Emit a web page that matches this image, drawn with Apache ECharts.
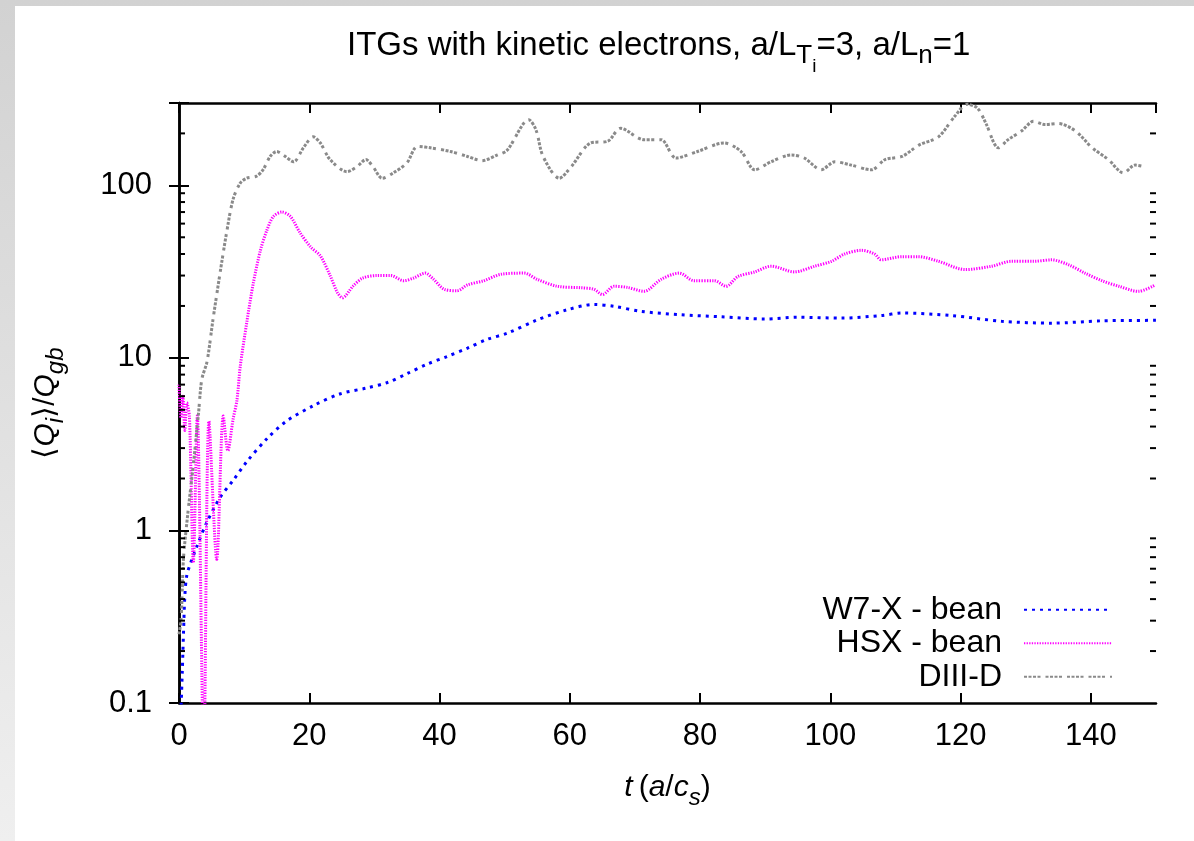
<!DOCTYPE html>
<html>
<head>
<meta charset="utf-8">
<script src="https://cdn.jsdelivr.net/npm/echarts@6/dist/echarts.min.js"></script>
<style>
  html, body { margin: 0; padding: 0; }
  body { width: 1194px; height: 841px; background: linear-gradient(to bottom, #d2d2d2, #efefef); position: relative; overflow: hidden; }
  #paper { position: absolute; left: 15px; top: 6px; width: 1179px; height: 835px; background: #fff; }
  #chart { position: absolute; left: 0; top: 0; width: 1194px; height: 841px; }
</style>
</head>
<body>
<div id="paper"></div>
<div id="chart"></div>
<script>
// [t, <Qi>/Qgb]
const w7x = [
  [0.2, 0.07], [0.5, 0.15], [0.7, 0.26], [0.9, 0.42], [1.2, 0.55], [1.8, 0.65], [2.7, 0.8],
  [4.2, 1.1], [6.3, 1.55], [8.4, 1.97], [10.4, 2.5], [13.5, 3.4], [16.5, 4.3], [20.7, 5.3],
  [24.8, 6.2], [28.9, 6.7], [32, 7.2], [35, 8.1], [38.1, 9.2], [41.2, 10.2], [44.3, 11.4],
  [47.3, 12.8], [50.4, 13.9], [55, 16.6], [59.6, 19], [63.7, 20.4], [66.8, 19.9], [70.9, 18.6],
  [77, 17.8], [83.2, 17.3], [89.9, 16.8], [95, 17.2], [101.7, 17], [107.8, 17.6], [111, 18.2],
  [118.6, 17.6], [126.3, 16.3], [134, 15.9], [141.7, 16.4], [150, 16.5]
];
const hsx = [
  [0, 7], [0.3, 4.5], [0.6, 6], [0.9, 3.8], [1.2, 5.5], [1.6, 4.6], [2.2, 0.65], [2.8, 4.6],
  [3.8, 0.05], [4.6, 4.3], [5.8, 0.68], [6.8, 4.6], [7.5, 2.9], [8.3, 4.4], [8.9, 5.7],
  [9.4, 8.9], [10.4, 16], [11.4, 27], [12.5, 42], [13.5, 55], [14.5, 66], [15.8, 70],
  [17.1, 66], [18.6, 53], [20.2, 44], [21.7, 39], [23.2, 30], [24.3, 24], [25.1, 22.3],
  [26.7, 26], [28.2, 29], [30.4, 30], [32.5, 30], [34.5, 28], [36, 29], [37.8, 31],
  [39.1, 28.5], [40.7, 25], [42.7, 24.5], [44.3, 26.5], [46.8, 28], [49.4, 30.5], [53, 31],
  [55, 28.5], [58.1, 26], [61.7, 25.5], [63.7, 25], [65, 23.3], [66.8, 26], [68.9, 25.6],
  [71.4, 24.3], [74, 28.5], [76.8, 31], [79.1, 28], [82.2, 28], [84, 26], [85.8, 29.6],
  [88.4, 31.5], [90.9, 34], [94.5, 31.5], [97.6, 34], [100.2, 36.3], [102.2, 40], [104.8, 42],
  [106.8, 40], [107.8, 37], [111, 38.6], [113.5, 38.6], [116.6, 36.3], [120.7, 32.5],
  [124.8, 34], [127.8, 36.3], [131.3, 36.3], [134, 37], [136.6, 34.6], [139.1, 31],
  [141.7, 28], [144.3, 26], [147.3, 24.3], [149.9, 26.5]
];
const diiid = [
  [0, 0.25], [0.3, 0.3], [0.5, 0.45], [0.7, 0.7], [1.4, 1.3], [2.2, 2.4], [3, 4.8], [3.5, 7.5],
  [4.3, 9.5], [5.2, 16.5], [6.3, 31], [7.3, 53], [8.3, 83], [9.4, 103], [10.4, 110], [11.9, 113],
  [12.9, 123], [14, 147], [15, 157], [16, 150], [17.6, 137], [19.1, 165], [20.6, 191],
  [21.7, 176], [23.2, 141], [25.8, 120], [27.3, 128], [28.7, 141], [29.8, 128], [31.2, 110],
  [32.9, 118], [35, 135], [36.6, 168], [38.6, 165], [41.7, 157], [44.3, 147], [46.5, 139],
  [48.9, 150], [50.4, 160], [53.7, 240], [54.8, 210], [55.9, 147], [58.4, 110], [60.2, 128],
  [63.2, 176], [65.8, 180], [67.8, 214], [71.4, 184], [74, 184], [76.3, 144], [79.6, 157],
  [83.7, 176], [86.3, 157], [88.4, 123], [90.9, 137], [94, 150], [96, 144], [98.6, 123],
  [100.7, 137], [103.2, 131], [106.3, 123], [108.4, 141], [111, 147], [113.6, 171], [116.6, 191],
  [119.1, 251], [121, 295], [122.6, 280], [123.9, 228], [125.8, 165], [127.3, 184], [129.4, 207],
  [131.2, 235], [133, 225], [135, 228], [137.6, 207], [140.2, 165], [142.7, 141], [145, 118],
  [146.8, 131], [148.3, 128]
];
const yMajorLabels = [0.1, 1, 10, 100];
const yMinorTicks = [0.2, 0.3, 0.4, 0.5, 0.6, 0.7, 0.8, 0.9, 2, 3, 4, 5, 6, 7, 8, 9,
  20, 30, 40, 50, 60, 70, 80, 90, 200];
const seriesNames = ['W7-X - bean', 'HSX - bean', 'DIII-D'];

const font = 'Liberation Sans, Arial, Helvetica, sans-serif';
const chart = echarts.init(document.getElementById('chart'));

const frameAxis = {
  axisLine: { show: true, lineStyle: { color: '#000', width: 2.5 } },
  axisTick: { show: true, inside: true, length: 10, lineStyle: { color: '#000', width: 2 } },
  splitLine: { show: false }
};

function txt(size, extra) {
  return Object.assign({ fontSize: size, lineHeight: 30, fontFamily: font, fontWeight: 'normal', color: '#000' }, extra || {});
}

// one minor tick per edge: [edge t, value, direction]
const minorTickData = [];
yMinorTicks.forEach(function (v) {
  minorTickData.push([0, v, 1]);
  minorTickData.push([150, v, -1]);
});

const option = {
  animation: false,
  textStyle: { fontFamily: font, color: '#000' },
  title: {
    left: 347,
    top: 31,
    padding: 0,
    text: '{m|ITGs with kinetic electrons, a/L}{s|T}{ss|i}{m|=3, a/L}{s|n}{m|=1}',
    textStyle: {
      fontWeight: 'normal',
      rich: {
        m: txt(33),
        s: txt(26, { padding: [20, 0, 0, 0] }),
        ss: txt(19, { padding: [42, 0, 0, 0] })
      }
    }
  },
  legend: {
    orient: 'vertical',
    right: 81,
    top: 593,
    padding: 0,
    itemGap: 0,
    align: 'right',
    itemWidth: 88,
    itemHeight: 14,
    itemStyle: { opacity: 0 },
    data: seriesNames,
    textStyle: { fontSize: 32, lineHeight: 33.5, fontFamily: font, color: '#000', padding: [0, 17, 0, 0] }
  },
  grid: { left: 179, right: 38, top: 103, bottom: 138, containLabel: false },
  xAxis: [
    Object.assign({}, frameAxis, {
      type: 'value', min: 0, max: 150, interval: 20, position: 'bottom',
      axisLabel: { fontSize: 31, margin: 18, color: '#000', fontFamily: font, showMaxLabel: false },
      name: '{t|t}{m|(}{i|a}{m|/}{i|c}{s|s}{m|)}',
      nameLocation: 'middle',
      nameGap: 70,
      nameTextStyle: {
        rich: {
          m: txt(30),
          t: txt(30, { fontStyle: 'italic', padding: [0, 6, 0, 0] }),
          i: txt(30, { fontStyle: 'italic' }),
          s: txt(24, { padding: [20, 0, 0, 0], fontStyle: 'italic' })
        }
      }
    }),
    Object.assign({}, frameAxis, {
      type: 'value', min: 0, max: 150, interval: 20, position: 'top',
      axisLabel: { show: false }
    })
  ],
  yAxis: [
    Object.assign({}, frameAxis, {
      type: 'log', logBase: 10, min: 0.1, max: 300, position: 'left',
      axisLabel: {
        fontSize: 31, margin: 27, color: '#000', fontFamily: font,
        formatter: function (v) {
          const r = +Number(v).toPrecision(6);
          return yMajorLabels.indexOf(r) >= 0 ? String(r) : '';
        }
      },
      name: '{m|⟨}{q|Q}{s|i}{m|⟩/}{q|Q}{s|gb}',
      nameLocation: 'middle',
      nameRotate: 90,
      nameGap: 118,
      nameTextStyle: {
        rich: {
          m: txt(30),
          q: txt(30, { fontStyle: 'italic' }),
          s: txt(24, { padding: [20, 0, 0, 0], fontStyle: 'italic' })
        }
      }
    }),
    Object.assign({}, frameAxis, {
      type: 'log', logBase: 10, min: 0.1, max: 300, position: 'right',
      axisLabel: { show: false }
    })
  ],
  series: [
    {
      name: seriesNames[0], type: 'line', data: w7x, symbol: 'none', smooth: 0.3, clip: true,
      lineStyle: { color: '#0000ff', width: 3, type: [3, 5] }, itemStyle: { color: '#0000ff' }
    },
    {
      name: seriesNames[1], type: 'line', data: hsx, symbol: 'none', smooth: 0.3, clip: true,
      lineStyle: { color: '#ff00ff', width: 3, type: [1.3, 1.3] }, itemStyle: { color: '#ff00ff' }
    },
    {
      name: seriesNames[2], type: 'line', data: diiid, symbol: 'none', smooth: 0.3, clip: true,
      lineStyle: { color: '#8a8a8a', width: 3, type: [3, 1.5, 3, 1.5, 3, 1.5, 3, 5] }, itemStyle: { color: '#8a8a8a' }
    },
    {
      // minor log ticks on left and right frame edges
      name: 'minor', type: 'custom', silent: true, z: 20, clip: false,
      encode: { x: 0, y: 1 },
      data: minorTickData,
      renderItem: function (params, api) {
        const p = api.coord([api.value(0), api.value(1)]);
        const dir = api.value(2);
        return {
          type: 'line',
          shape: { x1: p[0], y1: p[1], x2: p[0] + dir * 6, y2: p[1] },
          style: { stroke: '#000', lineWidth: 2 }
        };
      }
    }
  ]
};

chart.setOption(option);
</script>
</body>
</html>
